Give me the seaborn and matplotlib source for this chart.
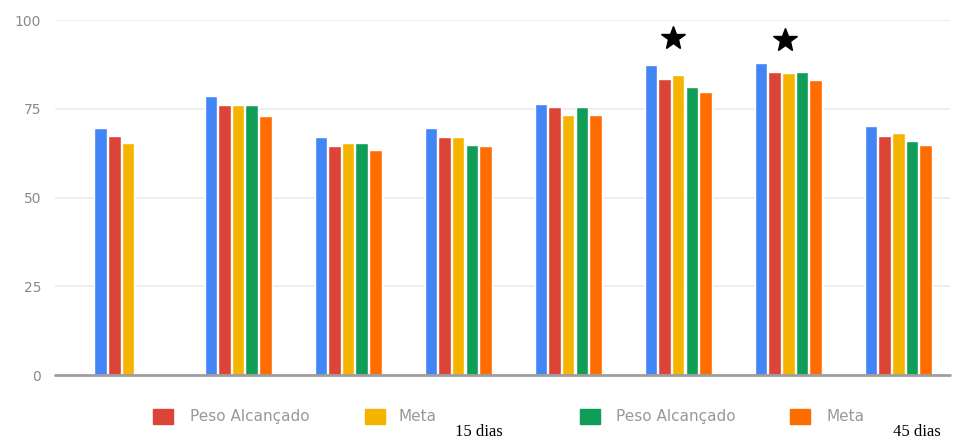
import numpy as np
import pandas as pd
import matplotlib
matplotlib.use("Agg")
import matplotlib.pyplot as plt
import seaborn as sns
from matplotlib.patches import Rectangle

# ---- data ----
groups = ["1", "2", "3", "4", "5", "6", "7", "8"]
series = ["Peso Inicial", "Peso Alcançado 15 dias", "Meta 15 dias",
          "Peso Alcançado 45 dias", "Meta 45 dias"]
peso_inicial = [69.5, 78.7, 67.1, 69.5, 76.3, 87.3, 88.0, 70.2]
peso_15 = [67.3, 76.0, 64.6, 67.0, 75.4, 83.4, 85.4, 67.4]
meta_15 = [65.4, 76.0, 65.3, 67.0, 73.2, 84.5, 85.0, 68.3]
peso_45 = [np.nan, 76.0, 65.3, 64.8, 75.4, 81.0, 85.4, 65.9]
meta_45 = [np.nan, 73.0, 63.4, 64.6, 73.2, 79.6, 83.0, 64.8]
colors = ["#4285F4", "#DB4437", "#F4B400", "#0F9D58", "#FF6D01"]
yticks = [0, 25, 50, 75, 100]
star_groups = [5, 6]
star_offsets = [-0.05, -0.03]
star_y = [95, 94.5]

values = [peso_inicial, peso_15, meta_15, peso_45, meta_45]
df = pd.DataFrame({
    "grupo": np.tile(groups, len(series)),
    "serie": np.repeat(series, len(groups)),
    "valor": np.concatenate(values),
})

sns.set_theme(style="white")
plt.rcParams["font.family"] = ["DejaVu Sans"]

fig = plt.figure(figsize=(9.63, 4.4), dpi=100)
ax = fig.add_axes([55 / 963, 65 / 440, 895 / 963, 355 / 440])

sns.barplot(data=df, x="grupo", y="valor", hue="serie", order=groups,
            hue_order=series, palette=colors, width=0.62, gap=0.08,
            saturation=1, legend=False, ax=ax)

ax.set_ylim(0, 100)
ax.set_xlim(-0.664, 7.47)
ax.set_yticks(yticks)
ax.set_yticklabels([str(t) for t in yticks], color="#8a8a8a", fontsize=10)
ax.set_xticks([])
ax.set_xlabel("")
ax.set_ylabel("")
for s in ax.spines.values():
    s.set_visible(False)
ax.tick_params(axis="y", length=0, pad=10)
for t in yticks[1:]:
    ax.axhline(t, color="#ebebeb", lw=1.2, zorder=0)
ax.axhline(0, color="#9e9e9e", lw=2, zorder=3, clip_on=False)

# stars
for g, off, y in zip(star_groups, star_offsets, star_y):
    ax.plot(g + off, y, marker="*", markersize=18, color="black",
            clip_on=False, zorder=5)

# custom legend
def leg_patch(xpx, color):
    fig.patches.append(Rectangle((xpx / 963, (440 - 424) / 440), 20 / 963, 15 / 440,
                                 transform=fig.transFigure, color=color, figure=fig))

ty = (440 - 416) / 440
lc = "#999999"
lfs = 11
leg_patch(153, colors[1])
fig.text(190 / 963, ty, "Peso Alcançado", color=lc, fontsize=lfs, va="center")
leg_patch(365, colors[2])
fig.text(398 / 963, ty, "Meta", color=lc, fontsize=lfs, va="center")
fig.text(455 / 963, (440 - 432) / 440, "15 dias", color="black", fontsize=12,
         family="Liberation Serif", va="center")
leg_patch(580, colors[3])
fig.text(616 / 963, ty, "Peso Alcançado", color=lc, fontsize=lfs, va="center")
leg_patch(790, colors[4])
fig.text(826 / 963, ty, "Meta", color=lc, fontsize=lfs, va="center")
fig.text(893 / 963, (440 - 432) / 440, "45 dias", color="black", fontsize=12,
         family="Liberation Serif", va="center")

fig.savefig("out.png", dpi=100)
